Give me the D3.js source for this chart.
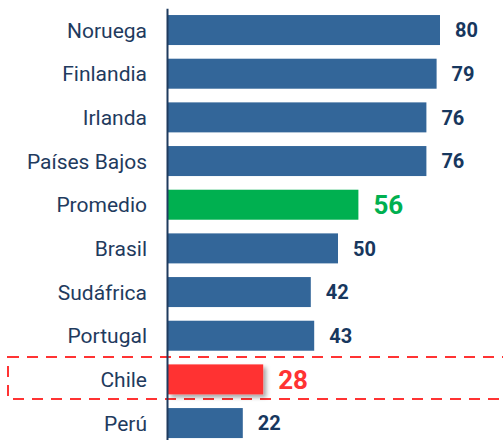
<html>
<head>
<meta charset="utf-8">
<script src="https://d3js.org/d3.v7.min.js"></script>
<style>
  body { margin: 0; background: #fff; }
  text { font-family: Roboto, "Noto Sans", sans-serif; }
  .cat-axis text { font-size: 21px; fill: #1f3b5e; }
  .cat-axis path { stroke: #1f3b5e; stroke-width: 2; }
  .val { font-size: 20px; font-weight: bold; fill: #17375e; }
</style>
</head>
<body>
<svg id="chart" width="503" height="440"></svg>
<script>
const countries = ["Noruega", "Finlandia", "Irlanda", "Países Bajos", "Promedio", "Brasil", "Sudáfrica", "Portugal", "Chile", "Perú"];
const scores = [80, 79, 76, 76, 56, 50, 42, 43, 28, 22];
const highlight = { "Promedio": "#00b050", "Chile": "#ff3333" };
const baseColor = "#336699";

const data = countries.map((c, i) => ({ name: c, value: scores[i] }));

const svg = d3.select("#chart");

const x = d3.scaleLinear().domain([0, 80]).range([168, 440]);
const y = d3.scaleBand().domain(countries).range([8.2, 444.9])
  .paddingInner(0.313).paddingOuter(0.1565);

// shadow for chile bar
const defs = svg.append("defs");
const f = defs.append("filter").attr("id", "shadow")
  .attr("x", "-10%").attr("y", "-20%").attr("width", "130%").attr("height", "160%");
f.append("feDropShadow").attr("dx", 3).attr("dy", 3).attr("stdDeviation", 2)
  .attr("flood-color", "#000").attr("flood-opacity", 0.35);

// dashed box round chile
svg.append("rect")
  .attr("x", 8).attr("y", y("Chile") - 7.5)
  .attr("width", 500).attr("height", 42)
  .attr("fill", "none")
  .attr("stroke", "#ff3333").attr("stroke-width", 2)
  .attr("stroke-dasharray", "11,8");

svg.selectAll(".bar")
  .data(data)
  .enter().append("rect")
  .attr("class", "bar")
  .attr("x", x(0))
  .attr("y", d => y(d.name))
  .attr("width", d => x(d.value) - x(0))
  .attr("height", y.bandwidth())
  .attr("fill", d => highlight[d.name] || baseColor)
  .attr("filter", d => d.name === "Chile" ? "url(#shadow)" : null);

svg.selectAll(".val")
  .data(data)
  .enter().append("text")
  .attr("class", "val")
  .attr("x", d => x(d.value) + 15)
  .attr("y", d => y(d.name) + y.bandwidth() / 2)
  .attr("dy", "0.36em")
  .style("font-size", d => highlight[d.name] ? "26px" : null)
  .style("fill", d => highlight[d.name] || null)
  .text(d => d.value);

const axis = svg.append("g")
  .attr("class", "cat-axis")
  .attr("transform", "translate(167,0)")
  .call(d3.axisLeft(y).tickSize(0).tickSizeOuter(0).tickPadding(20));
axis.selectAll("text").attr("dy", "0.36em");
</script>
</body>
</html>
